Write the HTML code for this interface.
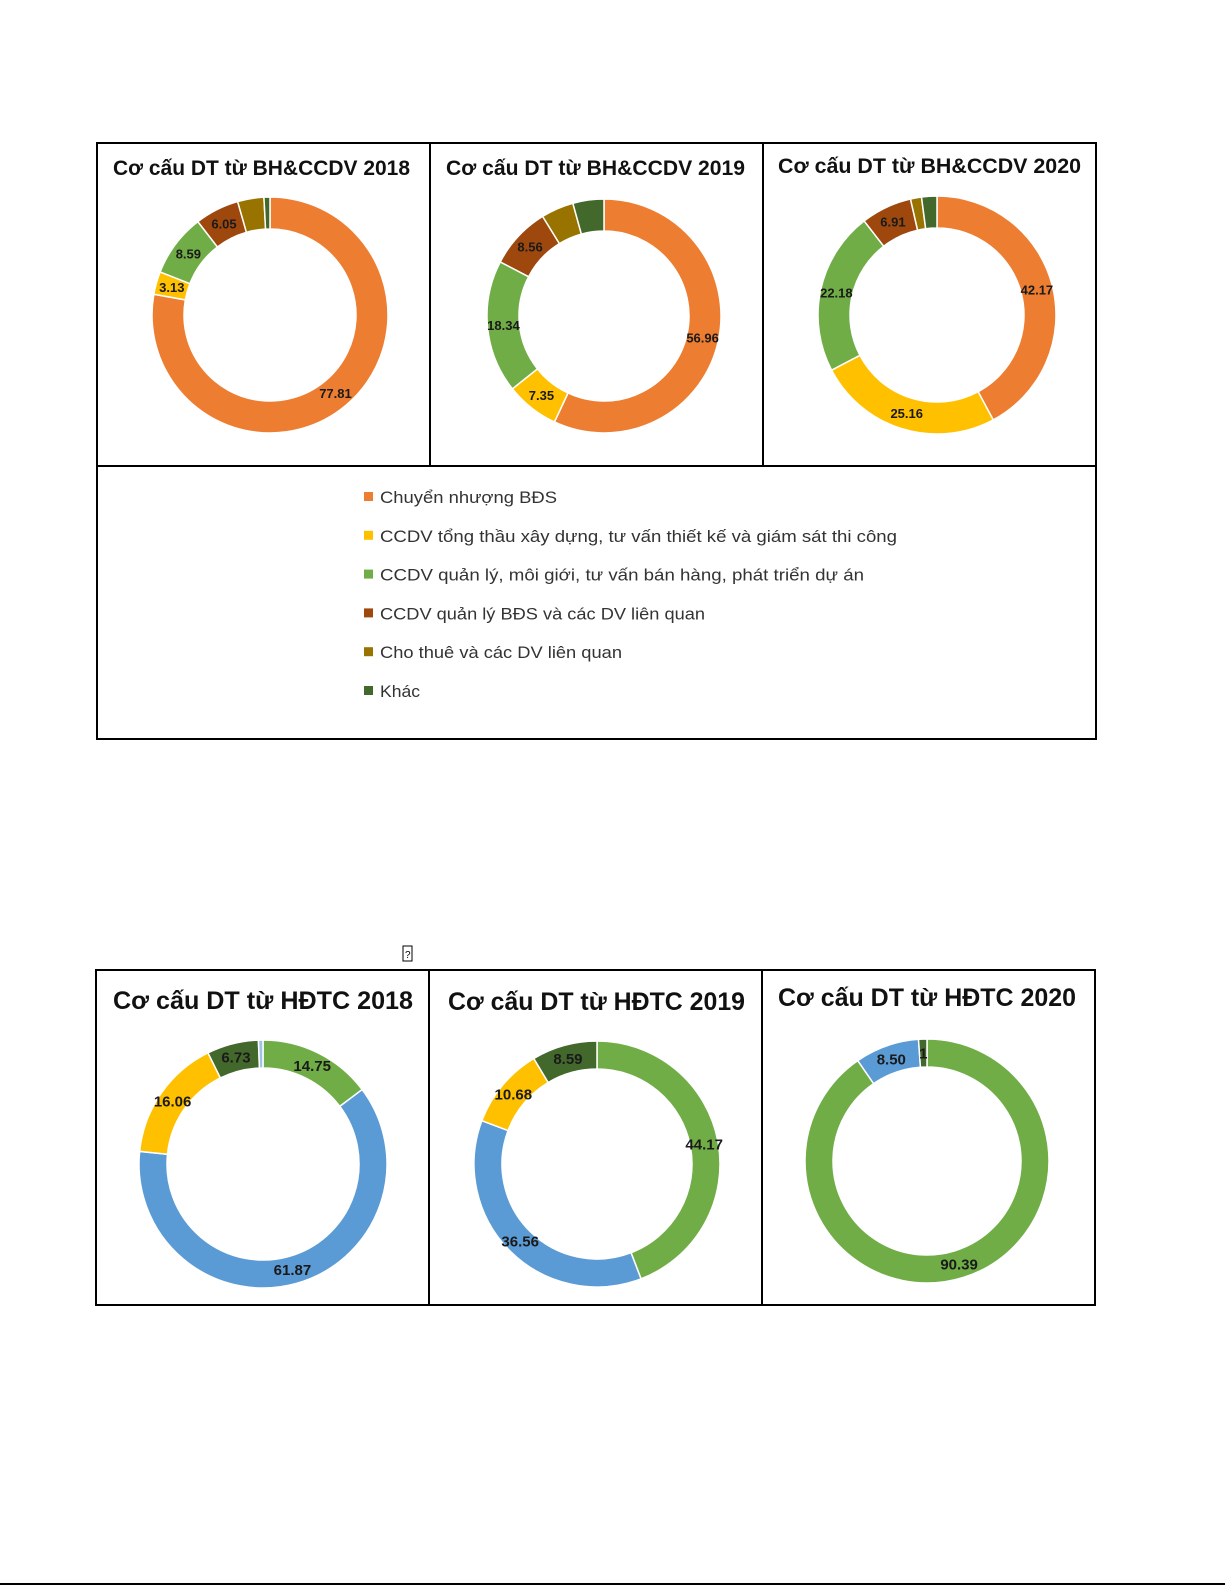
<!DOCTYPE html>
<html><head><meta charset="utf-8"><style>
html,body{margin:0;padding:0;background:#fff;}
svg{display:block;font-family:"Liberation Sans","DejaVu Sans",sans-serif;}
</style></head><body>
<svg id="page" width="1225" height="1585" viewBox="0 0 1225 1585">
<g id="frames" fill="none" stroke="#000" stroke-width="2">
  <rect x="97" y="143" width="999" height="596"/>
  <line x1="430" y1="143" x2="430" y2="466"/>
  <line x1="763" y1="143" x2="763" y2="466"/>
  <line x1="97" y1="466" x2="1096" y2="466"/>
  <rect x="96" y="970" width="999" height="335"/>
  <line x1="429" y1="970" x2="429" y2="1305"/>
  <line x1="762" y1="970" x2="762" y2="1305"/>
  <line x1="0" y1="1584" x2="1225" y2="1584" stroke-width="2"/>
</g>
<rect x="403" y="946" width="9" height="15" fill="none" stroke="#000" stroke-width="1"/>
<text x="405" y="958" font-size="10">?</text>
<g id="titles" font-weight="bold" fill="#111">
  <text x="113" y="175" font-size="21" textLength="297" lengthAdjust="spacingAndGlyphs">Cơ cấu DT từ BH&amp;CCDV 2018</text>
  <text x="446" y="175" font-size="21" textLength="299" lengthAdjust="spacingAndGlyphs">Cơ cấu DT từ BH&amp;CCDV 2019</text>
  <text x="778" y="173" font-size="21" textLength="303" lengthAdjust="spacingAndGlyphs">Cơ cấu DT từ BH&amp;CCDV 2020</text>
  <text x="113" y="1009" font-size="25" textLength="300" lengthAdjust="spacingAndGlyphs">Cơ cấu DT từ HĐTC 2018</text>
  <text x="448" y="1010" font-size="25" textLength="297" lengthAdjust="spacingAndGlyphs">Cơ cấu DT từ HĐTC 2019</text>
  <text x="778" y="1006" font-size="25" textLength="298" lengthAdjust="spacingAndGlyphs">Cơ cấu DT từ HĐTC 2020</text>
</g>
<g id="legend"></g>
<g id="donuts"></g>
</svg>
<script>
// Top charts: revenue structure from sales & services
const bhCategories = ["Chuyển nhượng BĐS","CCDV tổng thầu xây dựng, tư vấn thiết kế và giám sát thi công","CCDV quản lý, môi giới, tư vấn bán hàng, phát triển dự án","CCDV quản lý  BĐS và các DV liên quan","Cho thuê và các DV liên quan","Khác"];
const bhColors = ["#ED7D31","#FFC000","#70AD47","#9E480E","#997300","#43682B"];
const bh2018 = [77.81, 3.13, 8.59, 6.05, 3.6, 0.82];
const bh2019 = [56.96, 7.35, 18.34, 8.56, 4.5, 4.29];
const bh2020 = [42.17, 25.16, 22.18, 6.91, 1.5, 2.08];
const bhLabels2018 = ["77.81","3.13","8.59","6.05",null,null];
const bhLabels2019 = ["56.96","7.35","18.34","8.56",null,null];
const bhLabels2020 = ["42.17","25.16","22.18","6.91",null,null];
// Bottom charts: revenue structure from financial activities
const tcColors2018 = ["#70AD47","#5B9BD5","#FFC000","#43682B","#9DC3E6"];
const tc2018 = [14.75, 61.87, 16.06, 6.73, 0.59];
const tcLabels2018 = ["14.75","61.87","16.06","6.73",null];
const tcColors2019 = ["#70AD47","#5B9BD5","#FFC000","#43682B"];
const tc2019 = [44.17, 36.56, 10.68, 8.59];
const tcLabels2019 = ["44.17","36.56","10.68","8.59"];
const tcColors2020 = ["#70AD47","#5B9BD5","#43682B"];
const tc2020 = [90.39, 8.50, 1.11];
const tcLabels2020 = ["90.39","8.50","1"];

const NS = "http://www.w3.org/2000/svg";
const donutsG = document.getElementById("donuts");
const legendG = document.getElementById("legend");

function angleScale(v, total){ return v / total * Math.PI * 2; }
function pt(cx, cy, r, a){ return [cx + r*Math.sin(a), cy - r*Math.cos(a)]; }

function drawDonut(name, cx, cy, rOut, rIn, values, colors, labels, fs){
  const g = document.createElementNS(NS, "g");
  
  
  donutsG.appendChild(g);
  const total = values.reduce((a,b)=>a+b,0);
  let a0 = 0;
  values.forEach((v, i) => {
    const a1 = a0 + angleScale(v, total);
    const large = (a1 - a0) > Math.PI ? 1 : 0;
    const [x1,y1] = pt(cx,cy,rOut,a0), [x2,y2] = pt(cx,cy,rOut,a1);
    const [x3,y3] = pt(cx,cy,rIn,a1), [x4,y4] = pt(cx,cy,rIn,a0);
    const p = document.createElementNS(NS, "path");
    p.setAttribute("d", `M${x1},${y1}A${rOut},${rOut} 0 ${large} 1 ${x2},${y2}L${x3},${y3}A${rIn},${rIn} 0 ${large} 0 ${x4},${y4}Z`);
    p.setAttribute("fill", colors[i]);
    p.setAttribute("stroke", "#fff");
    p.setAttribute("stroke-width", "1.5");
    
    
    g.appendChild(p);
    if (labels[i]) {
      const am = (a0 + a1) / 2;
      const [lx, ly] = pt(cx, cy, (rOut + rIn) / 2, am);
      const t = document.createElementNS(NS, "text");
      t.setAttribute("x", lx); t.setAttribute("y", ly + fs*0.35);
      t.setAttribute("text-anchor", "middle");
      t.setAttribute("font-size", fs);
      t.setAttribute("font-weight", "bold");
      t.setAttribute("fill", "#1a1a1a");
      t.textContent = labels[i];
      
      
      g.appendChild(t);
    }
    a0 = a1;
  });
}

drawDonut("donut-bh-2018", 270, 315, 118, 86, bh2018, bhColors, bhLabels2018, 13);
drawDonut("donut-bh-2019", 604, 316, 117, 85, bh2019, bhColors, bhLabels2019, 13);
drawDonut("donut-bh-2020", 937, 315, 119, 87, bh2020, bhColors, bhLabels2020, 13);
drawDonut("donut-hdtc-2018", 263, 1164, 124, 96, tc2018, tcColors2018, tcLabels2018, 15);
drawDonut("donut-hdtc-2019", 597, 1164, 123, 95, tc2019, tcColors2019, tcLabels2019, 15);
drawDonut("donut-hdtc-2020", 927, 1161, 122, 94, tc2020, tcColors2020, tcLabels2020, 15);

const legendWidths = [177, 517, 484, 325, 242, 40];
bhCategories.forEach((c, i) => {
  const y = 497 + i * 38.8;
  const r = document.createElementNS(NS, "rect");
  r.setAttribute("x", 364); r.setAttribute("y", y - 5);
  r.setAttribute("width", 9); r.setAttribute("height", 9);
  r.setAttribute("fill", bhColors[i]);
  
  
  legendG.appendChild(r);
  const t = document.createElementNS(NS, "text");
  t.setAttribute("x", 380); t.setAttribute("y", y + 6);
  t.setAttribute("font-size", "17");
  t.setAttribute("fill", "#333");
  t.setAttribute("textLength", legendWidths[i]);
  t.setAttribute("lengthAdjust", "spacingAndGlyphs");
  t.textContent = c;
  
  
  legendG.appendChild(t);
});
</script>
</body></html>
